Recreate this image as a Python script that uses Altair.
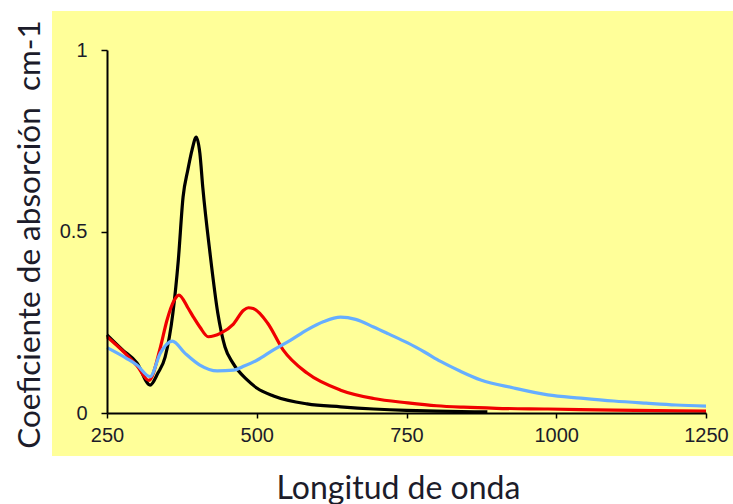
import altair as alt
import pandas as pd

# Absorption spectra of three nanoparticle samples (wavelength in nm)
black_wl = [250, 275, 300, 322, 335, 347, 360, 369, 377, 385, 392, 399, 405, 410, 422,
            435, 447, 460, 484, 500, 528, 584, 640, 695, 750, 800, 885]
black_val = [0.215, 0.175, 0.138, 0.077, 0.11, 0.154, 0.275, 0.42, 0.595, 0.67, 0.725, 0.76,
             0.716, 0.62, 0.44, 0.275, 0.182, 0.138, 0.091, 0.069, 0.047, 0.025, 0.017,
             0.011, 0.007, 0.005, 0.003]

red_wl = [250, 280, 300, 320, 339, 350, 362, 370, 385, 394, 405, 419, 440, 461, 478, 486,
          494, 518, 544, 584, 640, 695, 752, 800, 845, 900, 986, 1096, 1250]
red_val = [0.21, 0.165, 0.13, 0.09, 0.18, 0.255, 0.31, 0.325, 0.29, 0.265, 0.237, 0.21,
           0.22, 0.245, 0.283, 0.29, 0.288, 0.248, 0.174, 0.11, 0.063, 0.04, 0.028, 0.02,
           0.016, 0.013, 0.011, 0.008, 0.005]

blue_wl = [250, 283, 300, 322, 339, 359, 380, 405, 434, 461, 480, 501, 528, 556, 584, 612,
           640, 665, 695, 720, 752, 780, 807, 840, 874, 929, 986, 1041, 1096, 1150, 1200, 1250]
blue_val = [0.18, 0.15, 0.132, 0.1, 0.165, 0.198, 0.165, 0.132, 0.116, 0.118, 0.13, 0.146,
            0.174, 0.2, 0.229, 0.252, 0.264, 0.258, 0.237, 0.218, 0.193, 0.168, 0.142,
            0.115, 0.091, 0.069, 0.05, 0.041, 0.033, 0.027, 0.022, 0.019]

x_ticks = [250, 500, 750, 1000, 1250]
y_ticks = [0, 0.5, 1]

PLOT_W, PLOT_H = 599, 363
TEXT = "#1c1c2a"

x_scale = alt.Scale(domain=[250, 1250], nice=False, zero=False)
y_scale = alt.Scale(domain=[0, 1], nice=False)

x_axis = alt.Axis(
    values=x_ticks, format="d", grid=False, title="Longitud de onda",
    titleFont="Lato", titleFontSize=32, titleFontWeight="normal", titleColor=TEXT,
    titleX=291, titleY=75, titleAlign="center", titleBaseline="middle",
    labelFont="Liberation Sans", labelFontSize=20, labelColor=TEXT, labelPadding=7,
    labelFlush=False, tickSize=5, tickColor="black", tickWidth=1.5,
    domainColor="black", domainWidth=2, zindex=1,
)
y_axis = alt.Axis(
    values=y_ticks, format="~g", grid=False,
    title="Coeficiente de absorción\u00a0\u00a0cm-1",
    titleFont="Lato", titleFontSize=31.5, titleFontWeight="normal", titleColor=TEXT,
    titleAngle=270, titleX=-77, titleY=184, titleAlign="center", titleBaseline="middle",
    labelFont="Liberation Sans", labelFontSize=20, labelColor=TEXT, labelPadding=14,
    labelFlush=False, tickSize=6, tickColor="black", tickWidth=1.5,
    domainColor="black", domainWidth=2, zindex=1,
)


def spectrum(wl, val, color):
    df = pd.DataFrame({"wl": wl, "abs": val})
    return alt.Chart(df).mark_line(
        color=color, strokeWidth=3.2, interpolate="monotone"
    ).encode(
        x=alt.X("wl:Q", scale=x_scale, axis=x_axis),
        y=alt.Y("abs:Q", scale=y_scale, axis=y_axis),
    )


# pale yellow panel behind the plot and its tick labels
panel = alt.Chart(pd.DataFrame({"k": [0]})).mark_rect(color="#FFFF99").encode(
    x=alt.value(-55), x2=alt.value(626), y=alt.value(-39), y2=alt.value(406)
)

chart = alt.layer(
    panel,
    spectrum(black_wl, black_val, "#000000"),
    spectrum(red_wl, red_val, "#F00000"),
    spectrum(blue_wl, blue_val, "#66AEFF"),
).properties(
    width=PLOT_W, height=PLOT_H,
    padding={"left": 107, "top": 50, "right": 27, "bottom": 91},
    autosize=alt.AutoSizeParams(type="none"),
    background="white",
).configure_view(stroke="transparent")

chart.save("out.html", embed_options={"renderer": "svg", "actions": False})
